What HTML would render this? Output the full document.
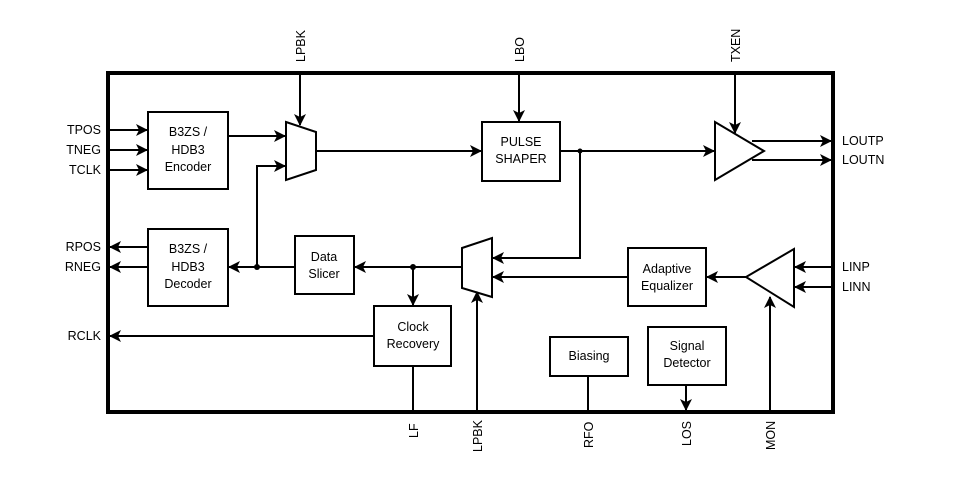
<!DOCTYPE html>
<html><head><style>html,body{margin:0;padding:0;background:#fff}</style></head>
<body>
<svg width="956" height="497" xmlns="http://www.w3.org/2000/svg" font-family="Liberation Sans, Arial, sans-serif" font-size="12.5">
<defs>
<marker id="a" markerWidth="12" markerHeight="12" refX="11" refY="6" orient="auto" markerUnits="userSpaceOnUse">
<path d="M0,0 L12,6 L0,12 L3,6 z" fill="#000"/></marker>
</defs>
<rect x="108" y="73" width="725" height="339" fill="none" stroke="#000" stroke-width="4"/>
<g fill="#fff" stroke="#000" stroke-width="2">
<rect x="148" y="112" width="80" height="77"/>
<rect x="148" y="229" width="80" height="77"/>
<rect x="295" y="236" width="59" height="58"/>
<rect x="482" y="122" width="78" height="59"/>
<rect x="628" y="248" width="78" height="58"/>
<rect x="374" y="306" width="77" height="60"/>
<rect x="550" y="337" width="78" height="39"/>
<rect x="648" y="327" width="78" height="58"/>
<polygon points="286,122 316,132 316,170 286,180"/>
<polygon points="462,248 492,238 492,297 462,288"/>
<polygon points="715,122 764,151 715,180"/>
<polygon points="794,249 746,277 794,307"/>
</g>
<g stroke="#000" stroke-width="2" fill="none" marker-end="url(#a)">
<line x1="108" y1="130" x2="147" y2="130"/>
<line x1="108" y1="150" x2="147" y2="150"/>
<line x1="108" y1="170" x2="147" y2="170"/>
<line x1="148" y1="247" x2="110" y2="247"/>
<line x1="148" y1="267" x2="110" y2="267"/>
<line x1="228" y1="136" x2="285" y2="136"/>
<polyline points="257,267 257,166 285,166"/>
<line x1="295" y1="267" x2="229" y2="267"/>
<line x1="300" y1="73" x2="300" y2="125"/>
<line x1="316" y1="151" x2="481" y2="151"/>
<line x1="519" y1="73" x2="519" y2="121"/>
<line x1="560" y1="151" x2="714" y2="151"/>
<line x1="735" y1="73" x2="735" y2="133"/>
<line x1="752" y1="141" x2="831" y2="141"/>
<line x1="752" y1="160" x2="831" y2="160"/>
<polyline points="580,151 580,258 493,258"/>
<line x1="628" y1="277" x2="493" y2="277"/>
<line x1="746" y1="277" x2="707" y2="277"/>
<line x1="833" y1="267" x2="795" y2="267"/>
<line x1="833" y1="287" x2="795" y2="287"/>
<line x1="770" y1="412" x2="770" y2="297"/>
<line x1="462" y1="267" x2="355" y2="267"/>
<line x1="413" y1="267" x2="413" y2="305"/>
<line x1="374" y1="336" x2="110" y2="336"/>
<line x1="477" y1="412" x2="477" y2="292"/>
<line x1="686" y1="385" x2="686" y2="410"/>
</g>
<g stroke="#000" stroke-width="2">
<line x1="413" y1="366" x2="413" y2="412"/>
<line x1="588" y1="376" x2="588" y2="412"/>
</g>
<circle cx="257" cy="267" r="3"/><circle cx="413" cy="267" r="3"/><circle cx="580" cy="151" r="2.5"/>
<g text-anchor="middle">
<text x="188" y="136">B3ZS /</text><text x="188" y="154">HDB3</text><text x="188" y="171">Encoder</text>
<text x="188" y="253">B3ZS /</text><text x="188" y="271">HDB3</text><text x="188" y="288">Decoder</text>
<text x="324" y="261">Data</text><text x="324" y="278">Slicer</text>
<text x="521" y="146">PULSE</text><text x="521" y="163">SHAPER</text>
<text x="667" y="273">Adaptive</text><text x="667" y="290">Equalizer</text>
<text x="413" y="331">Clock</text><text x="413" y="348">Recovery</text>
<text x="589" y="360">Biasing</text>
<text x="687" y="350">Signal</text><text x="687" y="367">Detector</text>
</g>
<g text-anchor="end">
<text x="101" y="134">TPOS</text><text x="101" y="154">TNEG</text><text x="101" y="174">TCLK</text>
<text x="101" y="251">RPOS</text><text x="101" y="271">RNEG</text><text x="101" y="340">RCLK</text>
</g>
<text x="842" y="145">LOUTP</text><text x="842" y="164">LOUTN</text>
<text x="842" y="271">LINP</text><text x="842" y="291">LINN</text>
<g>
<text transform="translate(305,62) rotate(-90)">LPBK</text>
<text transform="translate(524,62) rotate(-90)">LBO</text>
<text transform="translate(740,62) rotate(-90)">TXEN</text>
<text transform="translate(418,438) rotate(-90)">LF</text>
<text transform="translate(482,452) rotate(-90)">LPBK</text>
<text transform="translate(593,448) rotate(-90)">RFO</text>
<text transform="translate(691,446) rotate(-90)">LOS</text>
<text transform="translate(775,450) rotate(-90)">MON</text>
</g>
</svg>
</body></html>
